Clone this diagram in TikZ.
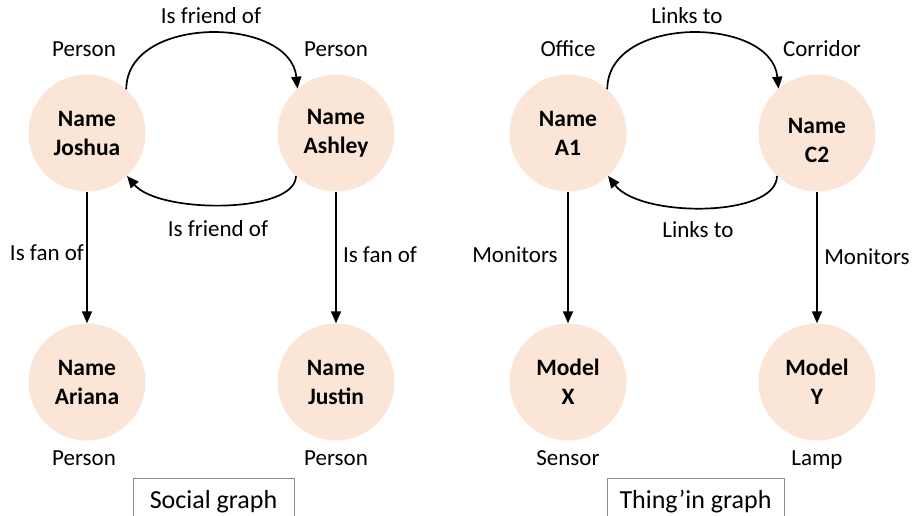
\documentclass[tikz,border=0pt]{standalone}
\usepackage{fontspec}
\setmainfont{Carlito}
\usetikzlibrary{arrows.meta}
\definecolor{peach}{HTML}{FBE5D6}
\definecolor{boxgray}{HTML}{8C8C8C}
\begin{document}
\begin{tikzpicture}[x=1pt,y=-1pt,
  ent/.style={circle,fill=peach,minimum size=117pt,inner sep=0pt,align=center,
    font=\bfseries\fontsize{23.5}{29}\selectfont},
  lbl/.style={font=\fontsize{23}{27}\selectfont,inner sep=0pt,anchor=base},
  rel/.style={line width=1.7pt,-{Triangle[length=12pt,width=10pt]}},
  capbox/.style={draw=boxgray,line width=1pt,minimum width=161pt,minimum height=48pt,
    inner sep=0pt,font=\fontsize{26}{30}\selectfont}]
\useasboundingbox (0,0) rectangle (912,516);
% social graph
\node[ent] (jo) at (87,133) {Name\\Joshua};
\node[ent] (as) at (336,133) {Name\\Ashley};
\node[ent] (ar) at (87,382) {Name\\Ariana};
\node[ent] (ju) at (336,382) {Name\\Justin};
\node[lbl] (p1) at (84,57) {Person};
\node[lbl] (p2) at (336,57) {Person};
\node[lbl] (p3) at (84,465) {Person};
\node[lbl] (p4) at (336,465) {Person};
\node[lbl] (f1) at (211,24) {Is friend of};
\node[lbl] (f2) at (218,236) {Is friend of};
\node[lbl] (s1) at (47,260) {Is fan of};
\node[lbl] (s2) at (380,262) {Is fan of};
\draw[rel] (jo.48) .. controls +(0,-75) and +(-7,-73) .. (as.131);
\draw[rel] (as.227) .. controls +(0,38) and +(32,38) .. (jo.313);
\draw[rel] (jo.south) -- (ar.north);
\draw[rel] (as.south) -- (ju.north);
\node[capbox] (c1) at (213.5,502) {Social graph};
% thing'in graph
\node[ent] (a1) at (568,133) {Name\\A1};
\node[ent] (c2) at (817,133) {\rule{0pt}{31pt}Name\\C2};
\node[ent] (mx) at (568,382) {Model\\X};
\node[ent] (my) at (817,382) {Model\\Y};
\node[lbl] (o1) at (568,57) {Office};
\node[lbl] (o2) at (822,57) {Corridor};
\node[lbl] (o3) at (568,465) {Sensor};
\node[lbl] (o4) at (817,465) {Lamp};
\node[lbl] (l1) at (687,24) {Links to};
\node[lbl] (l2) at (698,237) {Links to};
\node[lbl] (m1) at (515,262) {Monitors};
\node[lbl] (m2) at (867,264) {Monitors};
\draw[rel] (a1.48) .. controls +(0,-75) and +(-7,-73) .. (c2.131);
\draw[rel] (c2.227) .. controls +(0,42) and +(32,42) .. (a1.313);
\draw[rel] (a1.south) -- (mx.north);
\draw[rel] (c2.south) -- (my.north);
\node[capbox,minimum width=177pt] (c2b) at (695.5,502) {Thing’in graph};
\end{tikzpicture}
\end{document}
